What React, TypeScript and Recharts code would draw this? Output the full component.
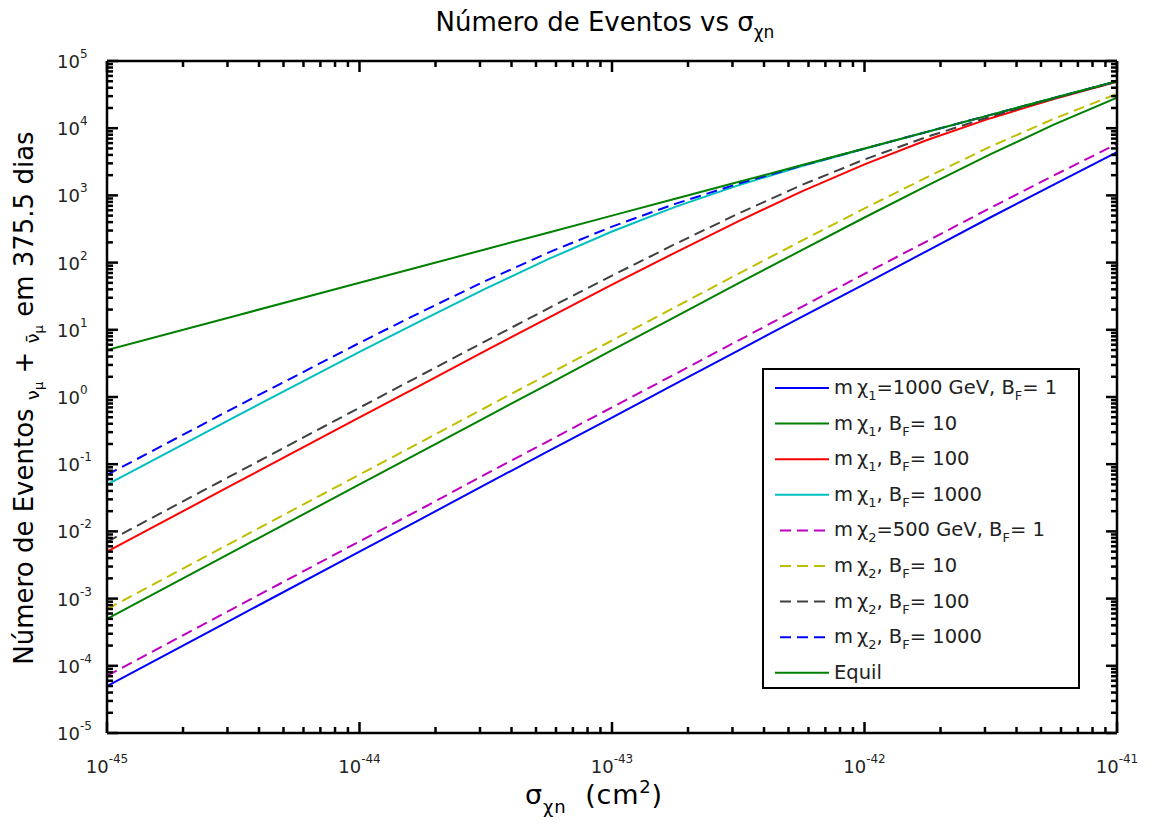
import React from 'react';
import { LineChart, Line, XAxis, YAxis, Legend } from 'recharts';

// Cross-section grid σ_χn (cm²), quarter-decade steps from 1e-45 to 1e-41
const sigma = [
  1e-45, 3.16e-45, 1e-44, 1.78e-44, 3.16e-44, 5.62e-44, 1e-43, 1.78e-43,
  3.16e-43, 5.62e-43, 1e-42, 1.78e-42, 3.16e-42, 5.62e-42, 1e-41,
];

// Expected events (ν_μ + ν̄_μ, 375.5 days) — mχ1 = 1000 GeV
const m1Bf1 = [5.0e-5, 5.0e-4, 5.0e-3, 1.58e-2, 5.0e-2, 0.158, 0.495, 1.57, 4.9, 15.5, 48, 151, 473, 1450, 4400];
const m1Bf10 = [5.0e-4, 5.0e-3, 0.05, 0.158, 0.499, 1.57, 4.97, 15.6, 49, 152, 469, 1410, 4110, 11300, 28500];
const m1Bf100 = [5.0e-3, 0.0499, 0.497, 1.56, 4.9, 15.2, 46.9, 141, 411, 1135, 2900, 6740, 14100, 27100, 49000];
const m1Bf1000 = [0.0497, 0.49, 4.69, 14.1, 41.1, 113.5, 290, 674, 1410, 2720, 4930, 8880, 15800, 28100, 50000];

// mχ2 = 500 GeV
const m2Bf1 = [7.1e-5, 7.1e-4, 7.1e-3, 2.23e-2, 7.1e-2, 0.223, 0.7, 2.2, 6.9, 21.8, 68, 211, 655, 1980, 5850];
const m2Bf10 = [7.0e-4, 7.0e-3, 0.07, 0.221, 0.698, 2.2, 6.93, 21.8, 67.9, 210, 640, 1890, 5350, 13800, 32500];
const m2Bf100 = [7.0e-3, 0.0698, 0.693, 2.18, 6.8, 21.0, 64.0, 189, 535, 1420, 3430, 7490, 14900, 27700, 49500];
const m2Bf1000 = [0.0694, 0.679, 6.39, 18.9, 53.5, 142, 343, 749, 1490, 2770, 4980, 8890, 15800, 28100, 50000];

// Capture–annihilation equilibrium
const equil = [5, 15.8, 50, 88.9, 158, 281, 500, 889, 1580, 2810, 5000, 8890, 15800, 28100, 50000];

// Axis decades (tick labels are 10^d) and minor tick multipliers
const sigmaDecades = [-45, -44, -43, -42, -41];
const countDecades = [-5, -4, -3, -2, -1, 0, 1, 2, 3, 4, 5];
const minorSteps = [2, 3, 4, 5, 6, 7, 8, 9];

const logTicks = (decades: number[]) => {
  const out: number[] = [];
  decades.forEach((d, i) => {
    out.push(Math.pow(10, d));
    if (i < decades.length - 1) minorSteps.forEach((m) => out.push(m * Math.pow(10, d)));
  });
  return out;
};
const sigmaTicks = logTicks(sigmaDecades);
const countTicks = logTicks(countDecades);

const rows = sigma.map((s, i) => ({
  sigma: s,
  m1Bf1: m1Bf1[i],
  m1Bf10: m1Bf10[i],
  m1Bf100: m1Bf100[i],
  m1Bf1000: m1Bf1000[i],
  m2Bf1: m2Bf1[i],
  m2Bf10: m2Bf10[i],
  m2Bf100: m2Bf100[i],
  m2Bf1000: m2Bf1000[i],
  equil: equil[i],
}));

type Series = {
  key: string;
  color: string;
  dash?: string;
  mass?: string;
  mid?: string;
  bf?: string;
  plain?: string;
};

const series: Series[] = [
  { key: 'm1Bf1', color: '#0000ff', mass: '1', mid: '=1000 GeV, B', bf: '1' },
  { key: 'm1Bf10', color: '#008000', mass: '1', mid: ', B', bf: '10' },
  { key: 'm1Bf100', color: '#ff0000', mass: '1', mid: ', B', bf: '100' },
  { key: 'm1Bf1000', color: '#00bfbf', mass: '1', mid: ', B', bf: '1000' },
  { key: 'm2Bf1', color: '#bf00bf', dash: '11 6', mass: '2', mid: '=500 GeV, B', bf: '1' },
  { key: 'm2Bf10', color: '#bfbf00', dash: '11 6', mass: '2', mid: ', B', bf: '10' },
  { key: 'm2Bf100', color: '#404040', dash: '11 6', mass: '2', mid: ', B', bf: '100' },
  { key: 'm2Bf1000', color: '#0000ff', dash: '11 6', mass: '2', mid: ', B', bf: '1000' },
  { key: 'equil', color: '#008000', plain: 'Equil' },
];

const FONT = '"DejaVu Sans", Verdana, sans-serif';
const W = 1154;
const H = 823;
const PLOT = { left: 107, right: 1117, top: 61, bottom: 733 };
const MAJOR = 11;
const MINOR = 6;
const TW = 2.5; // tick mark thickness

const exponentOf = (v: number): number | null => {
  const l = Math.log10(v);
  const r = Math.round(l);
  return Math.abs(l - r) < 1e-6 ? r : null;
};

// Inward tick marks; labels only on the decades
const BottomTick = (props: any) => {
  const { x, payload } = props;
  const e = exponentOf(payload.value);
  const len = e === null ? MINOR : MAJOR;
  return (
    <g>
      <rect x={x - TW / 2} y={PLOT.bottom - len} width={TW} height={len} fill="#000" />
      {e !== null && (
        <text x={x} y={773} textAnchor="middle" fontFamily={FONT} fontSize={18} fill="#222">
          10
          <tspan dy={-10} fontSize={12}>
            {e}
          </tspan>
        </text>
      )}
    </g>
  );
};

const TopTick = (props: any) => {
  const { x, payload } = props;
  const len = exponentOf(payload.value) === null ? MINOR : MAJOR;
  return <rect x={x - TW / 2} y={PLOT.top} width={TW} height={len} fill="#000" />;
};

const LeftTick = (props: any) => {
  const { y, payload } = props;
  const e = exponentOf(payload.value);
  const len = e === null ? MINOR : MAJOR;
  return (
    <g>
      <rect x={PLOT.left} y={y - TW / 2} width={len} height={TW} fill="#000" />
      {e !== null && (
        <text x={57} y={y + 7} textAnchor="start" fontFamily={FONT} fontSize={18} fill="#222">
          10
          <tspan dy={-10} fontSize={12}>
            {e}
          </tspan>
        </text>
      )}
    </g>
  );
};

const RightTick = (props: any) => {
  const { y, payload } = props;
  const len = exponentOf(payload.value) === null ? MINOR : MAJOR;
  return <rect x={PLOT.right - len} y={y - TW / 2} width={len} height={TW} fill="#000" />;
};

const LEGEND = { left: 762, top: 368, width: 318, height: 321 };

const LegendBox = () => (
  <svg width={LEGEND.width} height={LEGEND.height} style={{ display: 'block' }}>
    <rect x={1} y={1} width={LEGEND.width - 2} height={LEGEND.height - 2} fill="#fff" stroke="#000" strokeWidth={2} />
    {series.map((s, i) => {
      const cy = 20 + i * 35.6;
      return (
        <g key={s.key}>
          <line
            x1={s.dash ? 18 : 13}
            x2={67}
            y1={cy}
            y2={cy}
            stroke={s.color}
            strokeWidth={2}
            strokeDasharray={s.dash}
          />
          <text x={72} y={cy + 6} fontFamily={FONT} fontSize={19.5} fill="#222">
            {s.plain ? (
              s.plain
            ) : (
              <>
                {'m\u2009χ'}
                <tspan dy={6} fontSize={13}>
                  {s.mass}
                </tspan>
                <tspan dy={-6}>{s.mid}</tspan>
                <tspan dy={6} fontSize={13}>
                  F
                </tspan>
                <tspan dy={-6}>{'= ' + s.bf}</tspan>
              </>
            )}
          </text>
        </g>
      );
    })}
  </svg>
);

const Labels = () => (
  <svg
    width={W}
    height={H}
    style={{ position: 'absolute', left: 0, top: 0, pointerEvents: 'none' }}
  >
    <text x={605} y={31} textAnchor="middle" fontFamily={FONT} fontSize={26} fill="#000">
      Número de Eventos vs σ
      <tspan dy={7} fontSize={17}>
        χn
      </tspan>
    </text>
    <text x={594} y={804} textAnchor="middle" fontFamily={FONT} fontSize={27} fill="#000" letterSpacing={0.8}>
      σ
      <tspan dy={9} fontSize={18}>
        χn
      </tspan>
      <tspan dy={-9}>{'\u00a0\u00a0(cm'}</tspan>
      <tspan dy={-11} fontSize={18}>
        2
      </tspan>
      <tspan dy={11}>)</tspan>
    </text>
    <text
      x={33}
      y={398}
      transform="rotate(-90 33 398)"
      textAnchor="middle"
      fontFamily={FONT}
      fontSize={26}
      fill="#000"
    >
      {'Número de Eventos '}
      <tspan dy={6} fontSize={18}>
        ν
      </tspan>
      <tspan dy={4} fontSize={13}>
        μ
      </tspan>
      <tspan dy={-10}>{' + '}</tspan>
      <tspan dy={6} fontSize={18}>
        {'ν\u0304'}
      </tspan>
      <tspan dy={4} fontSize={13}>
        μ
      </tspan>
      <tspan dy={-10}>{' em 375.5 dias'}</tspan>
    </text>
  </svg>
);

// Shared settings for the four log-scaled frame axes
const xLog = {
  dataKey: 'sigma',
  type: 'number' as const,
  scale: 'log' as const,
  domain: [1e-45, 1e-41],
  allowDataOverflow: true,
  ticks: sigmaTicks,
  interval: 0,
  height: 1,
  tickLine: false,
  axisLine: { stroke: '#000', strokeWidth: 2.5 },
};
const yLog = {
  type: 'number' as const,
  scale: 'log' as const,
  domain: [1e-5, 1e5],
  allowDataOverflow: true,
  ticks: countTicks,
  interval: 0,
  width: 1,
  tickLine: false,
  axisLine: { stroke: '#000', strokeWidth: 2.5 },
};

export default function App() {
  return (
    <div style={{ position: 'absolute', left: 0, top: 0, width: W, height: H, background: '#fff' }}>
      <LineChart
        width={W}
        height={H}
        data={rows}
        margin={{ top: PLOT.top - 1, right: W - PLOT.right - 1, bottom: H - PLOT.bottom - 1, left: PLOT.left - 1 }}
      >
        <XAxis {...xLog} tick={<BottomTick />} />
        <XAxis {...xLog} xAxisId="top" orientation="top" tick={<TopTick />} />
        <YAxis {...yLog} tick={<LeftTick />} />
        <YAxis {...yLog} yAxisId="right" orientation="right" tick={<RightTick />} />
        {series.map((s) => (
          <Line
            key={s.key}
            type="linear"
            dataKey={s.key}
            stroke={s.color}
            strokeWidth={2}
            strokeDasharray={s.dash}
            dot={false}
            activeDot={false}
            isAnimationActive={false}
          />
        ))}
        <Legend
          layout="vertical"
          align="center"
          verticalAlign="middle"
          content={() => <LegendBox />}
          wrapperStyle={{ left: LEGEND.left, top: LEGEND.top, width: LEGEND.width, height: LEGEND.height }}
        />
      </LineChart>
      <Labels />
    </div>
  );
}
